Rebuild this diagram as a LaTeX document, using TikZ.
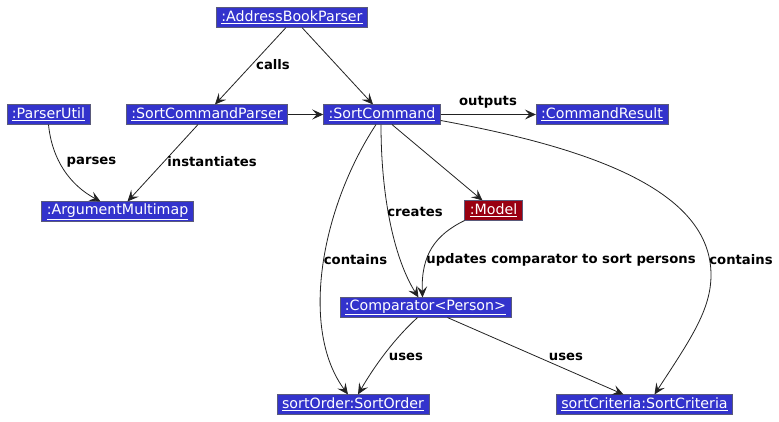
\documentclass[tikz,border=0pt]{standalone}
\usepackage{fontspec}
\setmainfont{DejaVu Sans}
\usetikzlibrary{arrows.meta}
\definecolor{objblue}{HTML}{3333CC}
\definecolor{objred}{HTML}{990011}
\definecolor{edgec}{HTML}{222222}
\definecolor{bordc}{HTML}{5A5A7A}
\tikzset{
  obj/.style={draw=bordc, line width=0.6pt, fill=objblue, text=white,
    font=\fontsize{14.2}{16}\selectfont, inner xsep=5pt, inner ysep=0pt,
    minimum height=19.5pt, anchor=center},
  redobj/.style={obj, fill=objred},
  lbl/.style={font=\bfseries\fontsize{13.2}{15}\selectfont, text=black, inner sep=0pt},
  conn/.style={draw=edgec, line width=0.8pt, -{Stealth[length=11pt,width=10pt,inset=4.5pt]}}
}
\begin{document}
\begin{tikzpicture}[x=1pt,y=-1pt]
\useasboundingbox (0,0) rectangle (779,421);
% nodes
\node[obj] (abp) at (292,17.5) {\underline{:AddressBookParser}};
\node[obj] (pu)  at (48.5,114.5) {\underline{:ParserUtil}};
\node[obj] (scp) at (207,114.5) {\underline{:SortCommandParser}};
\node[obj] (sc)  at (382,114.5) {\underline{:SortCommand}};
\node[obj] (cr)  at (602,114.5) {\underline{:CommandResult}};
\node[obj] (amm) at (117.5,211.5) {\underline{:ArgumentMultimap}};
\node[redobj] (mdl) at (493.5,210.5) {\underline{:Model}};
\node[obj] (cmp) at (425.5,307.5) {\underline{:Comparator<Person>}};
\node[obj] (so)  at (353,404.5) {\underline{sortOrder:SortOrder}};
\node[obj] (scr) at (644.5,404.5) {\underline{sortCriteria:SortCriteria}};
% connectors
\draw[conn] ([xshift=-6pt]abp.south) -- ([xshift=8pt]scp.north);
\draw[conn] ([xshift=10pt]abp.south) -- ([xshift=-9pt]sc.north);
\draw[conn] (scp.east) -- (sc.west);
\draw[conn] (sc.east) -- (cr.west);
\draw[conn] (pu.south) .. controls (52,160) and (70,185) .. ([xshift=-17pt]amm.north);
\draw[conn] ([xshift=-9pt]scp.south) -- ([xshift=10pt]amm.north);
\draw[conn] ([xshift=10pt]sc.south) -- ([xshift=-11pt]mdl.north);
\draw[conn] ([xshift=-1pt]sc.south) .. controls (381,200) and (395,260) .. ([xshift=-7pt]cmp.north);
\draw[conn] (mdl.south west) .. controls (435,235) and (421,255) .. ([xshift=-3pt]cmp.north);
\draw[conn] ([xshift=-6pt]sc.south) .. controls (320,210) and (300,330) .. ([xshift=-5pt]so.north);
\draw[conn] ([yshift=-6pt]sc.east) .. controls (590,148) and (711,190) .. (711,275)
  .. controls (711,310) and (690,340) .. ([xshift=10pt]scr.north);
\draw[conn] ([xshift=-8pt]cmp.south) .. controls (395,338) and (375,365) .. ([xshift=5pt]so.north);
\draw[conn] ([xshift=22pt]cmp.south) -- ([xshift=-21pt]scr.north);
% labels
\node[lbl] (l1) at (273,65) {calls};
\node[lbl] (l2) at (488,102) {outputs};
\node[lbl] (l3) at (91.5,162) {parses};
\node[lbl] (l4) at (212,162) {instantiates};
\node[lbl] (l5) at (415,211.5) {creates};
\node[lbl] (l6) at (355.5,259.5) {contains};
\node[lbl] (l7) at (561,259.5) {updates comparator to sort persons};
\node[lbl] (l8) at (741,259.5) {contains};
\node[lbl] (l9) at (406,356.5) {uses};
\node[lbl] (l10) at (566,356.5) {uses};
\end{tikzpicture}
\end{document}
